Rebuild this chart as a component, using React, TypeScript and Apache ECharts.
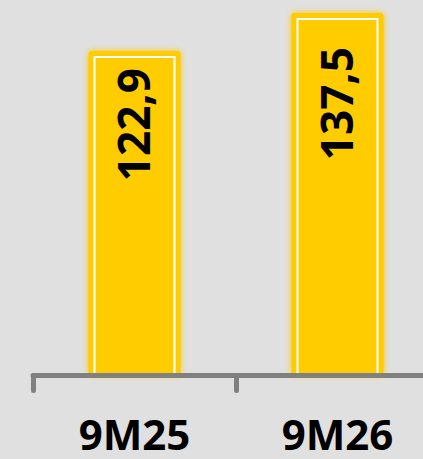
import React, { useEffect, useRef } from "react";
import * as echarts from "echarts";

const categories = ["9M25", "9M26"];
const values = [122.9, 137.5];
const valueLabels = ["122,9", "137,5"];
const labelOffsets = [12, 29];

export default function App() {
  const ref = useRef<HTMLDivElement>(null);
  useEffect(() => {
    document.body.style.margin = "0";
    const chart = echarts.init(ref.current!, null, { renderer: "svg" });
    const barW = 82;
    chart.setOption({
      animation: false,
      backgroundColor: "#e0e0e0",
      grid: { left: 33, right: 11, top: 11.5, bottom: 83.5, containLabel: false },
      xAxis: {
        type: "category",
        data: categories,
        boundaryGap: true,
        z: 5,
        axisLine: { show: true, lineStyle: { color: "#808080", width: 5, cap: "round" } },
        axisTick: { show: true, length: 15, lineStyle: { color: "#808080", width: 5, cap: "round" } },
        axisLabel: {
          margin: 41,
          lineHeight: 34,
          fontFamily: "Open Sans",
          fontWeight: "bold",
          fontSize: 42,
          color: "#000",
        },
      },
      yAxis: { type: "value", min: 0, max: 140, show: false, splitLine: { show: false } },
      series: [
        {
          type: "custom",
          z: 1,
          silent: true,
          data: values.map((v, i) => [i, v]),
          encode: { x: 0, y: 1 },
          renderItem: (params: any, api: any) => {
            const top = api.coord([api.value(0), api.value(1)]);
            const base = api.coord([api.value(0), 0]);
            const pad = 4;
            return {
              type: "rect",
              shape: {
                x: top[0] - barW / 2 - 1 - pad,
                y: top[1] - 1 - pad,
                width: barW + 2 + pad * 2,
                height: base[1] - top[1] + 1 + pad,
                r: 3,
              },
              style: { fill: "#ffcc00", shadowBlur: 6, shadowColor: "#ffcc00" },
            };
          },
        },
        {
          type: "bar",
          z: 2,
          data: values.map((v, i) => ({ value: v, label: { distance: labelOffsets[i] } })),
          barWidth: barW,
          itemStyle: {
            color: "#ffcc00",
            borderColor: "#ffffff",
            borderWidth: 2,
          },
          label: {
            show: true,
            position: "insideTop",
            rotate: 90,
            align: "right",
            verticalAlign: "middle",
            offset: [0, -2],
            fontFamily: "Open Sans",
            fontWeight: "bold",
            fontSize: 44,
            color: "#000",
            formatter: (p: any) => valueLabels[p.dataIndex],
          },
        },
      ],
    });
    return () => chart.dispose();
  }, []);
  return (
    <div style={{ position: "fixed", left: 0, top: 0, width: 423, height: 459, overflow: "hidden" }}>
      <div ref={ref} style={{ width: 450, height: 459 }} />
    </div>
  );
}
